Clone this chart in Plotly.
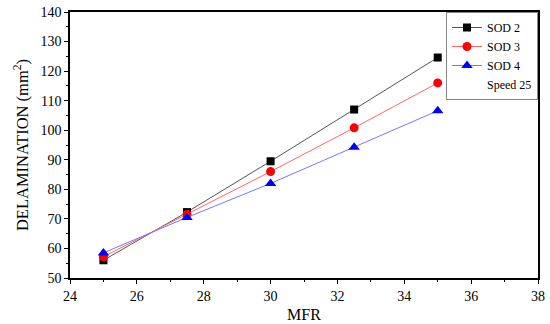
import plotly.graph_objects as go

mfr = [25, 27.5, 30, 32.5, 35]
sod2 = [56.0, 72.3, 89.5, 107.0, 124.6]
sod3 = [57.2, 71.5, 86.0, 100.8, 116.0]
sod4 = [58.5, 70.5, 82.0, 94.2, 106.6]

font = "Liberation Serif"
fig = go.Figure()
fig.add_trace(go.Scatter(x=mfr, y=sod2, name="SOD 2", mode="lines+markers",
                         line=dict(color="#555555", width=1),
                         marker=dict(symbol="square", color="black", size=8)))
fig.add_trace(go.Scatter(x=mfr, y=sod3, name="SOD 3", mode="lines+markers",
                         line=dict(color="#ff6666", width=1),
                         marker=dict(symbol="circle", color="red", size=9)))
fig.add_trace(go.Scatter(x=mfr, y=sod4, name="SOD 4", mode="lines+markers",
                         line=dict(color="#7777ff", width=1),
                         marker=dict(symbol="triangle-up", color="blue", size=10)))
fig.add_trace(go.Scatter(x=[None], y=[None], name="Speed 25", mode="lines",
                         line=dict(color="rgba(0,0,0,0)", width=0)))

fig.update_layout(
    width=550, height=324,
    margin=dict(l=70, r=12, t=12, b=46, autoexpand=False),
    paper_bgcolor="white", plot_bgcolor="white",
    font=dict(family=font, color="black", size=14),
    legend=dict(x=1, xanchor="right", y=1, yanchor="top",
                bordercolor="#888888", borderwidth=1, bgcolor="white",
                font=dict(size=12, family=font), tracegroupgap=0,
                itemwidth=30),
    showlegend=True,
)
fig.update_xaxes(range=[24, 38], dtick=2, tick0=24, showgrid=False, zeroline=False,
                 showline=True, linecolor="black", linewidth=1.5, mirror=True,
                 automargin=False,
                 ticks="outside", ticklen=4, tickcolor="black",
                 tickfont=dict(family=font, size=14),
                 minor=dict(ticks="outside", dtick=1, ticklen=2, tickcolor="black"),
                 title=dict(text="MFR", font=dict(size=16, family=font), standoff=6))
fig.update_yaxes(range=[50, 140], dtick=10, showgrid=False, zeroline=False,
                 showline=True, linecolor="black", linewidth=1.5, mirror=True,
                 automargin=False,
                 ticks="outside", ticklen=4, tickcolor="black",
                 tickfont=dict(family=font, size=14),
                 minor=dict(ticks="outside", dtick=5, ticklen=2, tickcolor="black"),
                 title=dict(text="DELAMINATION (mm<sup>2</sup>)", font=dict(size=16.5, family=font), standoff=8))

fig.write_html("out.html", config={"displayModeBar": False},
               post_script="document.body.style.margin='0';")
